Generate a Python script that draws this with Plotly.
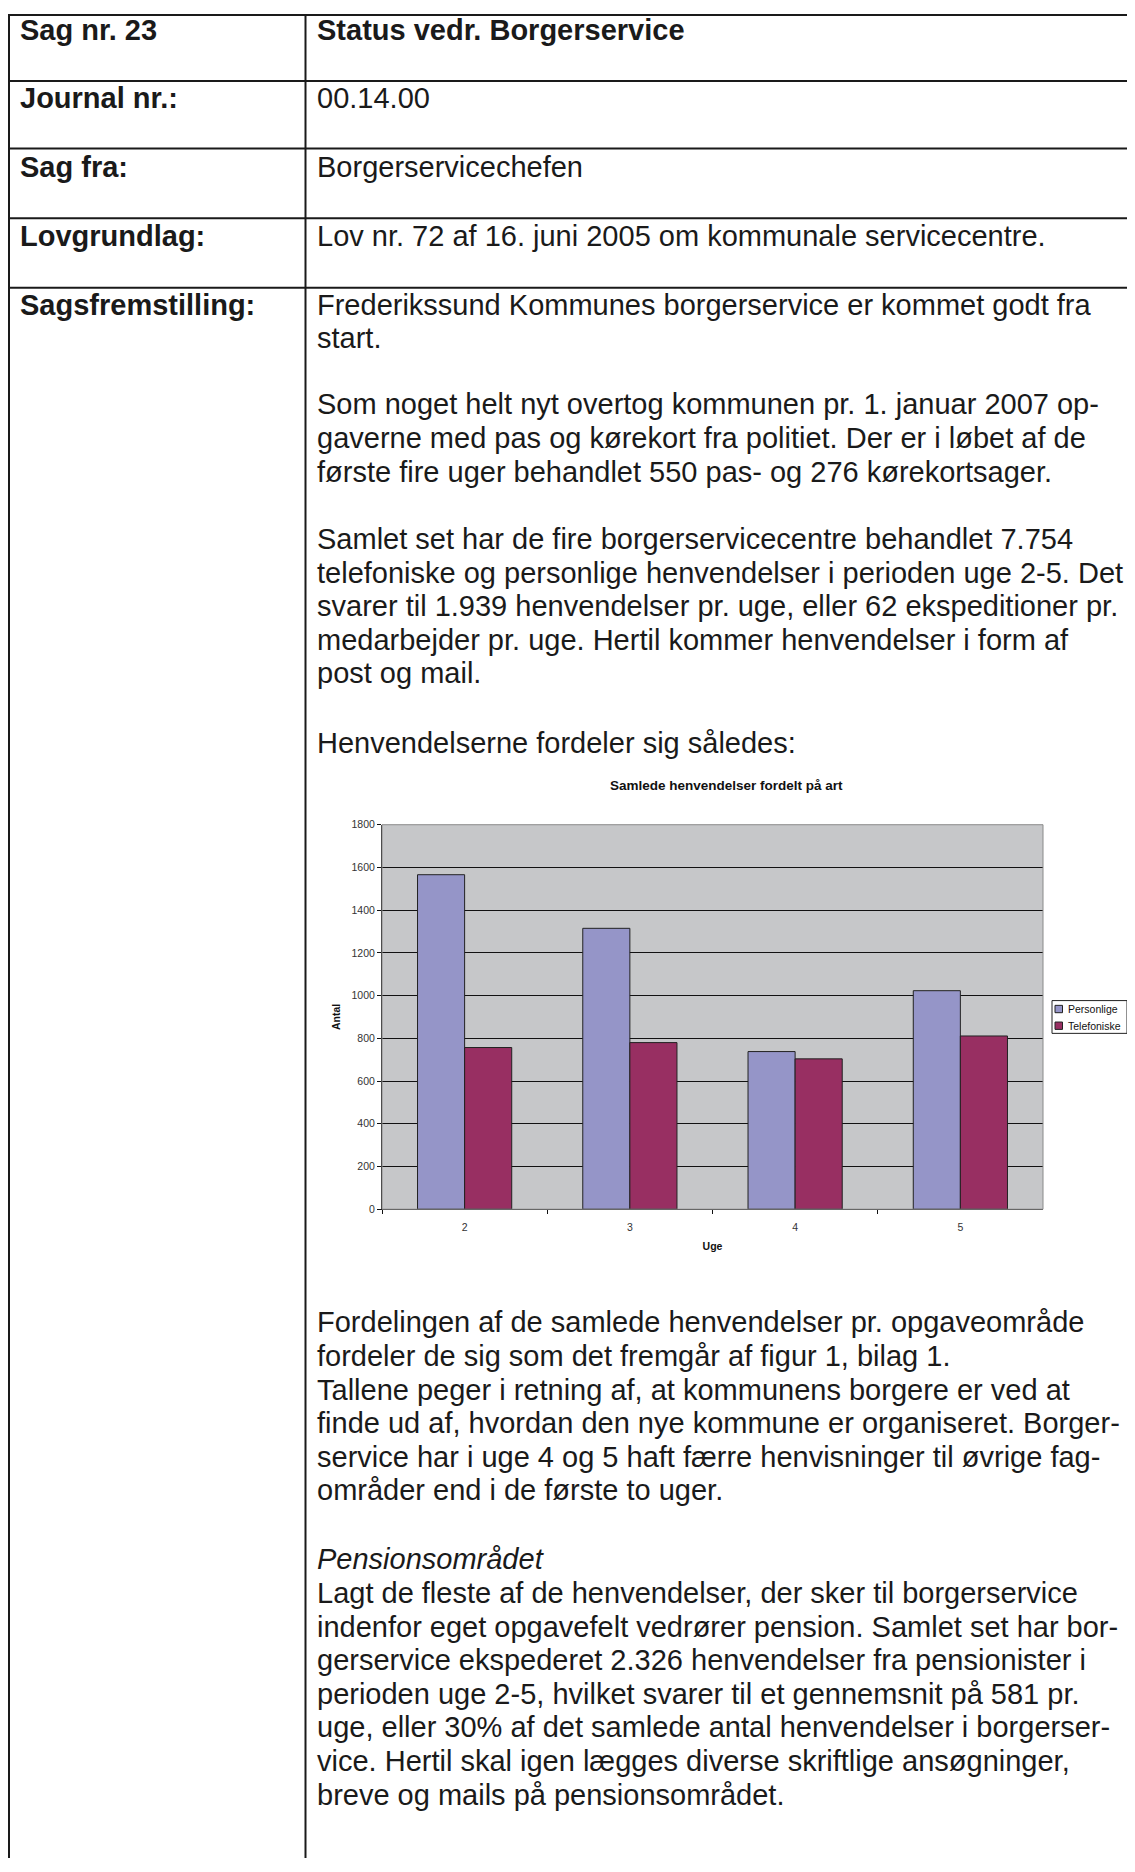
import plotly.graph_objects as go

# ---------------- data ----------------
weeks = ["2", "3", "4", "5"]
personlige = [1566, 1315, 738, 1023]
telefoniske = [757, 780, 704, 811]
series_names = ["Personlige", "Telefoniske"]
y_ticks = [0, 200, 400, 600, 800, 1000, 1200, 1400, 1600, 1800]

chart_title = "Samlede henvendelser fordelt på art"
x_title = "Uge"
y_title = "Antal"

header_labels = ["Sag nr. 23", "Journal nr.:", "Sag fra:", "Lovgrundlag:", "Sagsfremstilling:"]
header_values = [
    "Status vedr. Borgerservice",
    "00.14.00",
    "Borgerservicechefen",
    "Lov nr. 72 af 16. juni 2005 om kommunale servicecentre.",
]

paragraphs_before = [
    ["Frederikssund Kommunes borgerservice er kommet godt fra",
     "start."],
    ["Som noget helt nyt overtog kommunen pr. 1. januar 2007 op-",
     "gaverne med pas og kørekort fra politiet. Der er i løbet af de",
     "første fire uger behandlet 550 pas- og 276 kørekortsager."],
    ["Samlet set har de fire borgerservicecentre behandlet 7.754",
     "telefoniske og personlige henvendelser i perioden uge 2-5. Det",
     "svarer til 1.939 henvendelser pr. uge, eller 62 ekspeditioner pr.",
     "medarbejder pr. uge. Hertil kommer henvendelser i form af",
     "post og mail."],
    ["Henvendelserne fordeler sig således:"],
]
paragraphs_after = [
    ["Fordelingen af de samlede henvendelser pr. opgaveområde",
     "fordeler de sig som det fremgår af figur 1, bilag 1.",
     "Tallene peger i retning af, at kommunens borgere er ved at",
     "finde ud af, hvordan den nye kommune er organiseret. Borger-",
     "service har i uge 4 og 5 haft færre henvisninger til øvrige fag-",
     "områder end i de første to uger."],
    ["<i>Pensionsområdet</i>",
     "Lagt de fleste af de henvendelser, der sker til borgerservice",
     "indenfor eget opgavefelt vedrører pension. Samlet set har bor-",
     "gerservice ekspederet 2.326 henvendelser fra pensionister i",
     "perioden uge 2-5, hvilket svarer til et gennemsnit på 581 pr.",
     "uge, eller 30% af det samlede antal henvendelser i borgerser-",
     "vice. Hertil skal igen lægges diverse skriftlige ansøgninger,",
     "breve og mails på pensionsområdet."],
]

# ---------------- layout helpers (window pixels -> paper) ----------------
OFF = 8
W, H = 1135 - 2 * OFF, 1872 - 2 * OFF
def px(x):
    return (x - OFF) / W
def py(y):
    return 1 - (y - OFF) / H

FONT = "Liberation Sans, Arial, sans-serif"
TEXT_COLOR = "#1a1a1a"
BODY_SIZE = 29
LINE_GAP = 33.8

PX0, PX1 = 382, 1043     # plot area (window px)
PY0, PY1 = 824, 1211

COLORS = ["#9595C8", "#982F62"]

fig = go.Figure()
for name, vals, col in zip(series_names, [personlige, telefoniske], COLORS):
    fig.add_trace(go.Bar(
        x=weeks, y=vals, name=name,
        marker=dict(color=col, line=dict(color="#222222", width=1)),
        showlegend=False,
    ))

shapes = []
annotations = []

# ---- table lines ----
TL, TOP, DIV = 9, 9, 305.5
row_lines = [TOP, 75.5, 143.5, 213.5, 283.5]
line_style = dict(color="#1a1a1a", width=2)
for yy in row_lines:
    shapes.append(dict(type="line", xref="paper", yref="paper",
                       x0=px(TL - 1), x1=1, y0=py(yy), y1=py(yy), line=line_style))
for xx in [TL, DIV]:
    shapes.append(dict(type="line", xref="paper", yref="paper",
                       x0=px(xx), x1=px(xx), y0=py(TOP), y1=0, line=line_style))

# ---- header texts ----
header_y = [24, 93, 162, 231, 300.5]
for i, lab in enumerate(header_labels):
    annotations.append(dict(text="<b>%s</b>" % lab, x=px(18), y=py(header_y[i]),
                            xref="paper", yref="paper", xanchor="left", yanchor="middle",
                            showarrow=False, font=dict(family=FONT, size=BODY_SIZE, color=TEXT_COLOR)))
for i, val in enumerate(header_values):
    txt = "<b>%s</b>" % val if i == 0 else val
    annotations.append(dict(text=txt, x=px(315), y=py(header_y[i]),
                            xref="paper", yref="paper", xanchor="left", yanchor="middle",
                            showarrow=False, font=dict(family=FONT, size=BODY_SIZE, color=TEXT_COLOR)))

# ---- body paragraphs ----
def add_paragraphs(paras, starts):
    for para, y0 in zip(paras, starts):
        for j, line in enumerate(para):
            annotations.append(dict(text=line, x=px(315), y=py(y0 + j * LINE_GAP),
                                    xref="paper", yref="paper", xanchor="left", yanchor="middle",
                                    showarrow=False,
                                    font=dict(family=FONT, size=BODY_SIZE, color=TEXT_COLOR)))

add_paragraphs(paragraphs_before, [300.5, 401, 536.5, 742])
add_paragraphs(paragraphs_after, [1325, 1563.5])

# ---- chart title ----
annotations.append(dict(text="<b>%s</b>" % chart_title, x=px(726), y=py(785),
                        xref="paper", yref="paper", xanchor="center", yanchor="middle",
                        showarrow=False, font=dict(family=FONT, size=13.5, color="#111111")))

# ---- plot border (gray top/right) ----
shapes.append(dict(type="rect", xref="paper", yref="paper",
                   x0=px(PX0), x1=px(PX1), y0=py(PY1), y1=py(PY0),
                   line=dict(color="#8a8a8a", width=1), layer="above"))

# ---- compact legend ----
LX0, LX1, LY0, LY1 = 1052, 1127, 1001, 1034
shapes.append(dict(type="rect", xref="paper", yref="paper",
                   x0=px(LX0), x1=px(LX1), y0=py(LY1), y1=py(LY0),
                   line=dict(color="#222222", width=1), fillcolor="white"))
for k, (name, col) in enumerate(zip(series_names, COLORS)):
    cy = 1009.5 + k * 16.8
    shapes.append(dict(type="rect", xref="paper", yref="paper",
                       x0=px(1055), x1=px(1062.5), y0=py(cy + 3.7), y1=py(cy - 3.7),
                       line=dict(color="#222222", width=1), fillcolor=col))
    annotations.append(dict(text=name, x=px(1065.5), y=py(cy), xref="paper", yref="paper",
                            xanchor="left", yanchor="middle", showarrow=False,
                            font=dict(family=FONT, size=10.5, color="#111111")))

fig.update_layout(
    width=W, height=H,
    margin=dict(l=0, r=0, t=0, b=0),
    paper_bgcolor="white",
    plot_bgcolor="#C6C7C9",
    barmode="group",
    bargap=0.43,
    bargroupgap=0,
    showlegend=False,
    shapes=shapes,
    annotations=annotations,
    xaxis=dict(
        domain=[px(PX0), px(PX1)],
        type="category",
        tickson="boundaries",
        ticks="outside", ticklen=4, tickcolor="#111111", tickwidth=1,
        ticklabelstandoff=8,
        showline=True, linecolor="#111111", linewidth=1,
        showgrid=False,
        tickfont=dict(family=FONT, size=10.5, color="#333333"),
        title=dict(text="<b>%s</b>" % x_title, standoff=10,
                   font=dict(family=FONT, size=10.5, color="#111111")),
    ),
    yaxis=dict(
        domain=[py(PY1), py(PY0)],
        range=[0, 1800],
        tickmode="array", tickvals=y_ticks,
        ticks="outside", ticklen=4, tickcolor="#111111", tickwidth=1,
        showline=True, linecolor="#111111", linewidth=1,
        showgrid=True, gridcolor="#111111", gridwidth=1,
        zeroline=False,
        tickfont=dict(family=FONT, size=10.5, color="#333333"),
        title=dict(text="<b>%s</b>" % y_title, standoff=8,
                   font=dict(family=FONT, size=10.5, color="#111111")),
    ),
)

fig.write_html("out.html")
